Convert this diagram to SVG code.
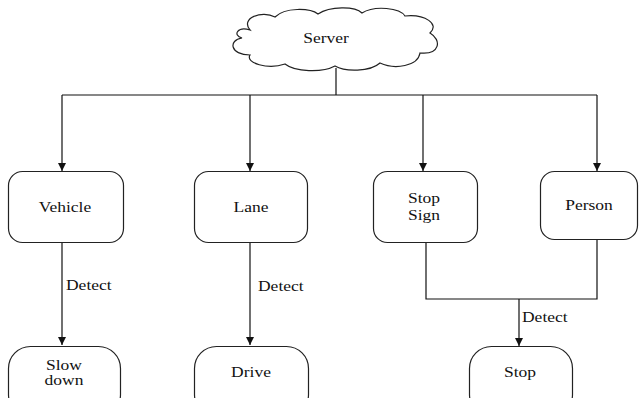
<svg xmlns="http://www.w3.org/2000/svg" width="639" height="398" viewBox="0 0 639 398">
<style>
  .shape{fill:#fff;stroke:#222;stroke-width:1.2}
  .conn{fill:none;stroke:#111;stroke-width:1.2}
  .t{font-family:"Times New Roman","Liberation Serif",Tinos,serif;font-size:14px;fill:#111}
  .c{text-anchor:middle}
</style>
<defs>
  <marker id="arr" markerWidth="10" markerHeight="10" refX="8" refY="4" orient="auto" markerUnits="userSpaceOnUse">
    <path d="M0,0 L8,4 L0,8 Z" fill="#111"/>
  </marker>
</defs>
<rect width="639" height="398" fill="#fff"/>
<g id="connectors">
  <path class="conn" d="M336,68 V95"/>
  <path class="conn" d="M62,95 H597"/>
  <path class="conn" d="M62,95 V171" marker-end="url(#arr)"/>
  <path class="conn" d="M250,95 V171" marker-end="url(#arr)"/>
  <path class="conn" d="M423,95 V171" marker-end="url(#arr)"/>
  <path class="conn" d="M597,95 V171" marker-end="url(#arr)"/>
  <path class="conn" d="M62,243 V345" marker-end="url(#arr)"/>
  <path class="conn" d="M250,243 V345" marker-end="url(#arr)"/>
  <path class="conn" d="M426,243 V299 H597 V240"/>
  <path class="conn" d="M519,299 V346" marker-end="url(#arr)"/>
  <text class="t" transform="translate(66,290) scale(1.25,1)">Detect</text>
  <text class="t" transform="translate(258,291) scale(1.25,1)">Detect</text>
  <text class="t" transform="translate(522,322) scale(1.25,1)">Detect</text>
</g>
<g id="server">
  <path class="shape" d="M250,30 C240,18 262,10 275,17 C285,7 310,8 318,14 C330,6 355,6 362,13 C375,5 400,8 405,16 C425,14 440,24 430,33 C442,40 440,55 420,53 C418,66 395,70 380,63 C370,72 345,72 335,66 C322,73 295,72 285,64 C268,70 245,63 250,55 C230,55 228,40 242,38 C232,35 238,26 250,30 Z"/>
  <text class="t c" transform="translate(326,43) scale(1.25,1)">Server</text>
</g>
<g id="vehicle">
  <rect class="shape" x="8.5" y="171.5" width="115" height="71" rx="14"/>
  <text class="t c" transform="translate(65,212) scale(1.25,1)">Vehicle</text>
</g>
<g id="lane">
  <rect class="shape" x="194.5" y="171.5" width="113" height="71" rx="14"/>
  <text class="t c" transform="translate(251,212) scale(1.25,1)">Lane</text>
</g>
<g id="stopsign">
  <rect class="shape" x="373.5" y="171.5" width="104" height="71" rx="14"/>
  <text class="t c" transform="translate(424,203) scale(1.25,1)">Stop</text>
  <text class="t c" transform="translate(424,220) scale(1.25,1)">Sign</text>
</g>
<g id="person">
  <rect class="shape" x="540.5" y="171.5" width="97" height="68" rx="14"/>
  <text class="t c" transform="translate(589,210) scale(1.25,1)">Person</text>
</g>
<g id="slowdown">
  <rect class="shape" x="8.5" y="346.5" width="112" height="70" rx="22"/>
  <text class="t c" transform="translate(64,370) scale(1.25,1)">Slow</text>
  <text class="t c" transform="translate(64,385) scale(1.25,1)">down</text>
</g>
<g id="drive">
  <rect class="shape" x="194.5" y="346.5" width="114" height="70" rx="22"/>
  <text class="t c" transform="translate(251,377) scale(1.25,1)">Drive</text>
</g>
<g id="stop">
  <rect class="shape" x="469.5" y="346.5" width="103" height="70" rx="22"/>
  <text class="t c" transform="translate(520,377) scale(1.25,1)">Stop</text>
</g>
</svg>
